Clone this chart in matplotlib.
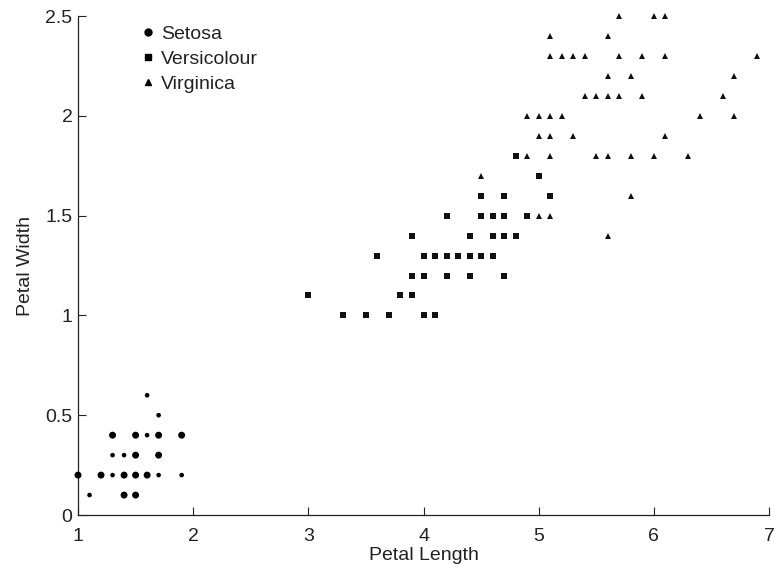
import matplotlib.pyplot as plt
from matplotlib.lines import Line2D

plt.rcParams['font.family'] = ['Liberation Sans', 'DejaVu Sans']

setosa_len = [1.6, 1.7, 1.3, 1.5, 1.6, 1.7, 1.9, 1.3, 1.4, 1.5, 1.7,
              1.0, 1.2, 1.3, 1.4, 1.5, 1.6, 1.7, 1.9, 1.1, 1.4, 1.5]
setosa_wid = [0.6, 0.5, 0.4, 0.4, 0.4, 0.4, 0.4, 0.3, 0.3, 0.3, 0.3,
              0.2, 0.2, 0.2, 0.2, 0.2, 0.2, 0.2, 0.2, 0.1, 0.1, 0.1]
setosa_big = [0, 0, 1, 1, 0, 1, 1, 0, 0, 1, 1,
              1, 1, 0, 1, 1, 1, 0, 0, 0, 1, 1]

versi_len = [4.8, 5.0, 4.5, 4.7, 5.1, 4.2, 4.5, 4.6, 4.7, 4.9,
             3.9, 4.4, 4.6, 4.7, 4.8, 3.6, 4.0, 4.1, 4.2, 4.3, 4.4, 4.5, 4.6,
             3.9, 4.0, 4.2, 4.4, 4.7, 3.0, 3.8, 3.9, 3.3, 3.5, 3.7, 4.0, 4.1]
versi_wid = [1.8, 1.7, 1.6, 1.6, 1.6, 1.5, 1.5, 1.5, 1.5, 1.5,
             1.4, 1.4, 1.4, 1.4, 1.4, 1.3, 1.3, 1.3, 1.3, 1.3, 1.3, 1.3, 1.3,
             1.2, 1.2, 1.2, 1.2, 1.2, 1.1, 1.1, 1.1, 1.0, 1.0, 1.0, 1.0, 1.0]

virg_len = [5.7, 6.0, 6.1, 5.1, 5.6,
            5.1, 5.2, 5.3, 5.4, 5.7, 5.9, 6.1, 6.9,
            5.6, 5.8, 6.7, 5.4, 5.5, 5.6, 5.7, 5.9, 6.6,
            4.9, 5.0, 5.1, 5.2, 6.4, 6.7, 5.0, 5.1, 5.3, 6.1,
            4.9, 5.1, 5.5, 5.6, 5.8, 6.0, 6.3, 4.5, 5.8, 5.0, 5.1, 5.6]
virg_wid = [2.5, 2.5, 2.5, 2.4, 2.4,
            2.3, 2.3, 2.3, 2.3, 2.3, 2.3, 2.3, 2.3,
            2.2, 2.2, 2.2, 2.1, 2.1, 2.1, 2.1, 2.1, 2.1,
            2.0, 2.0, 2.0, 2.0, 2.0, 2.0, 1.9, 1.9, 1.9, 1.9,
            1.8, 1.8, 1.8, 1.8, 1.8, 1.8, 1.8, 1.7, 1.6, 1.5, 1.5, 1.4]

fig = plt.figure(figsize=(7.77, 5.73), dpi=100)
ax = fig.add_axes([0.1004, 0.1012, 0.8893, 0.8708])

sizes = [25 if b else 11 for b in setosa_big]
ax.scatter(setosa_len, setosa_wid, s=sizes, marker='o', color='black',
           linewidths=0, clip_on=False, zorder=3)
ax.plot(versi_len, versi_wid, 's', color='#111111', markersize=3.8,
        markeredgewidth=0, clip_on=False)
ax.plot(virg_len, virg_wid, '^', color='#111111', markersize=4.2,
        markeredgewidth=0, clip_on=False)

ax.set_xlim(1, 7)
ax.set_ylim(0, 2.5)
ax.set_xticks([1, 2, 3, 4, 5, 6, 7])
ax.set_yticks([0, 0.5, 1, 1.5, 2, 2.5])
ax.set_yticklabels(['0', '0.5', '1', '1.5', '2', '2.5'])
ax.tick_params(direction='in', length=6, width=0.8, labelsize=14,
               colors='#222222')
ax.tick_params(axis='x', pad=9)
ax.tick_params(axis='y', pad=4)
for side in ['top', 'right']:
    ax.spines[side].set_visible(False)
for side in ['left', 'bottom']:
    ax.spines[side].set_linewidth(0.9)
    ax.spines[side].set_color('#222222')

ax.set_xlabel('Petal Length', fontsize=14, color='#222222', labelpad=2)
ax.set_ylabel('Petal Width', fontsize=14, color='#222222', labelpad=8)

handles = [
    Line2D([], [], linestyle='none', marker='o', color='black', markersize=5),
    Line2D([], [], linestyle='none', marker='s', color='black', markersize=4.5),
    Line2D([], [], linestyle='none', marker='^', color='black', markersize=4.5),
]
ax.legend(handles, ['Setosa', 'Versicolour', 'Virginica'], loc='upper left',
          bbox_to_anchor=(0.068, 1.016), frameon=False, fontsize=14,
          handlelength=0.6, handletextpad=0.35, labelspacing=0.38,
          labelcolor='#222222')

fig.savefig('out.png', dpi=100)
